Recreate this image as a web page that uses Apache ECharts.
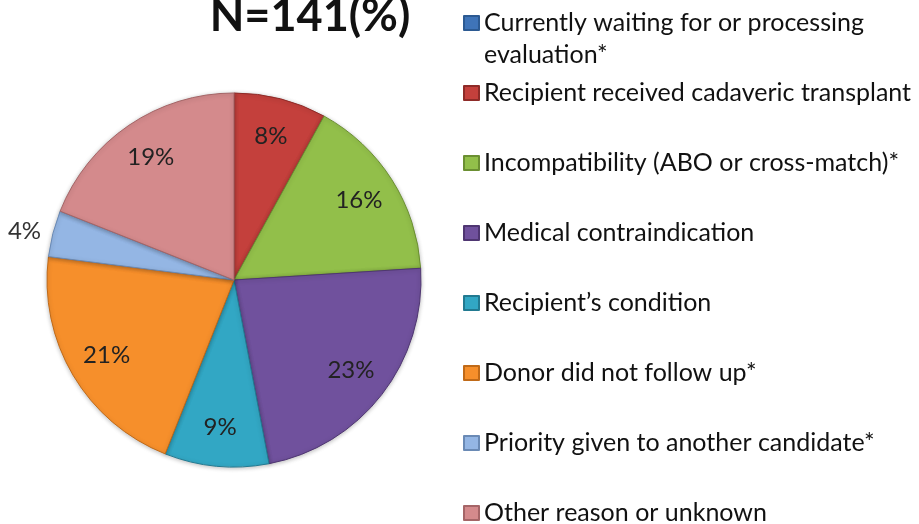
<!DOCTYPE html>
<html>
<head>
<meta charset="utf-8">
<script src="https://cdn.jsdelivr.net/npm/echarts@6/dist/echarts.min.js"></script>
<style>
html,body{margin:0;padding:0;background:#fff;}
#chart{width:919px;height:524px;}
</style>
</head>
<body>
<div id="chart"></div>
<script>
const titleText = 'N=141(%)';
const categories = [
  'Currently waiting for or processing evaluation*',
  'Recipient received cadaveric transplant',
  'Incompatibility (ABO or cross-match)*',
  'Medical contraindication',
  'Recipient\u2019s condition',
  'Donor did not follow up*',
  'Priority given to another candidate*',
  'Other reason or unknown'
];
const values = [0, 8, 16, 23, 9, 21, 4, 19];
const colors = ['#3f74b8', '#c4403c', '#92bf4a', '#70519d', '#32a7c4', '#f68f2b', '#94b6e4', '#d48a8c'];
const borderColors = ['#2c5a92', '#8e2b28', '#6b8f32', '#4f3672', '#227a91', '#c06a18', '#6a8ab5', '#a56567'];

const FONT = 'Lato, "Open Sans", sans-serif';

const mainData = categories.map((c, i) => {
  const d = {
    name: c,
    value: values[i],
    itemStyle: { color: colors[i], borderColor: borderColors[i], borderWidth: 1 }
  };
  if (values[i] > 0 && values[i] < 6) {
    d.label = { show: true };
    d.labelLine = { show: false, length: 7, length2: 0 };
  }
  return d;
});

const labelData = categories.map((c, i) => ({
  name: c,
  value: values[i],
  label: { show: values[i] >= 6 }
}));

const chart = echarts.init(document.getElementById('chart'), null, { renderer: 'canvas' });
chart.setOption({
  backgroundColor: '#ffffff',
  animation: false,
  title: {
    text: titleText,
    left: 305,
    textAlign: 'center',
    top: -11,
    textStyle: { fontFamily: FONT, fontSize: 45, fontWeight: 'bold', color: '#111' }
  },
  legend: {
    orient: 'vertical',
    left: 463,
    top: 10,
    height: 600,
    padding: 0,
    itemWidth: 15,
    itemHeight: 14,
    itemGap: 44,
    icon: 'rect',
    selectedMode: false,
    data: categories,
    formatter: function (name) {
      if (name === categories[0]) return 'Currently waiting for or processing';
      return name;
    },
    textStyle: { fontFamily: FONT, fontSize: 25, lineHeight: 26, color: '#111' }
  },
  graphic: [{
    type: 'text',
    left: 484,
    top: 42,
    style: { text: 'evaluation*', font: '25px ' + FONT, fill: '#111' }
  }],
  series: [
    {
      type: 'pie',
      name: 'main',
      center: [234, 280],
      radius: [0, 187],
      startAngle: 90,
      clockwise: true,
      avoidLabelOverlap: false,
      silent: true,
      label: {
        show: false,
        position: 'outside',
        formatter: '{c}%',
        fontFamily: FONT,
        fontSize: 24,
        color: '#333'
      },
      itemStyle: {
        shadowBlur: 4,
        shadowColor: 'rgba(0,0,0,0.25)',
        shadowOffsetY: 1
      },
      data: mainData
    },
    {
      type: 'pie',
      name: 'labels',
      center: [234, 280],
      radius: [0, 290],
      startAngle: 90,
      clockwise: true,
      silent: true,
      avoidLabelOverlap: false,
      itemStyle: { color: 'rgba(0,0,0,0)', borderWidth: 0 },
      label: {
        position: 'inside',
        formatter: '{c}%',
        fontFamily: FONT,
        fontSize: 24,
        color: '#222'
      },
      labelLine: { show: false },
      data: labelData
    }
  ]
});
</script>
</body>
</html>
